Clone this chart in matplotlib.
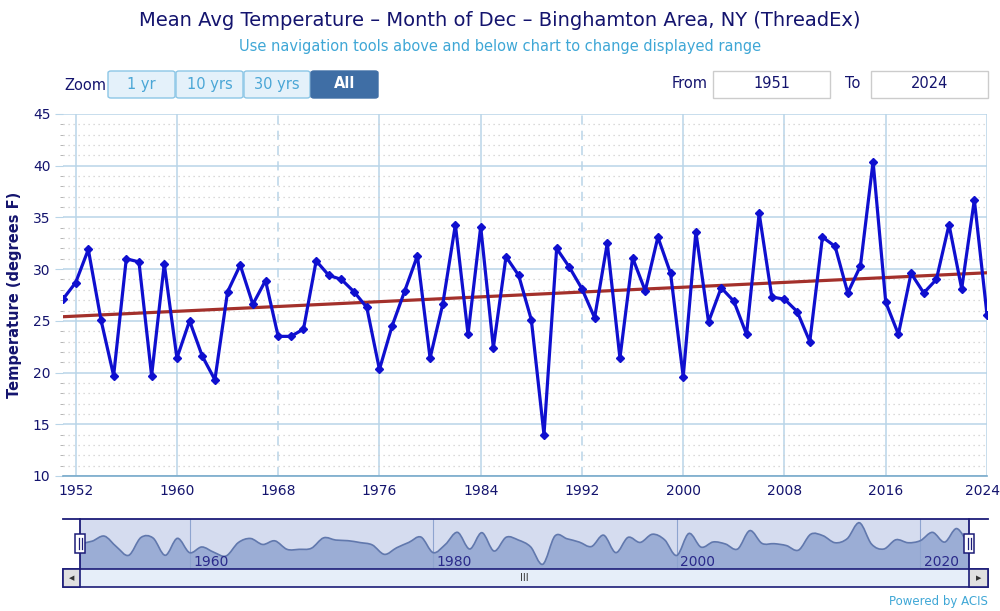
import numpy as np
import matplotlib
matplotlib.use("Agg")
import matplotlib.pyplot as plt
import matplotlib.transforms as mtransforms
from matplotlib.patches import FancyBboxPatch, Rectangle, PathPatch
from matplotlib.path import Path
from matplotlib.lines import Line2D

# === Data
years = list(range(1951, 2025))
temps = [27.1, 28.7, 31.9, 25.1, 19.7, 31.0, 30.7, 19.7, 30.5, 21.4,
         25.0, 21.6, 19.3, 27.8, 30.4, 26.6, 28.9, 23.5, 23.5, 24.2,
         30.8, 29.4, 29.0, 27.8, 26.3, 20.3, 24.5, 27.9, 31.3, 21.4,
         26.6, 34.3, 23.7, 34.1, 22.4, 31.2, 29.4, 25.1, 14.0, 32.0,
         30.2, 28.1, 25.3, 32.5, 21.4, 31.1, 27.9, 33.1, 29.6, 19.6,
         33.6, 24.9, 28.2, 26.9, 23.7, 35.4, 27.3, 27.1, 25.9, 23.0,
         33.1, 32.2, 27.7, 30.3, 40.4, 26.8, 23.7, 29.6, 27.7, 29.0,
         34.3, 28.1, 36.7, 25.6]
trend_years = [1951, 2024]
trend_vals = [25.4, 29.65]
x_ticks = [1952, 1960, 1968, 1976, 1984, 1992, 2000, 2008, 2016, 2024]
nav_ticks = [1960, 1980, 2000, 2020]

title = "Mean Avg Temperature \u2013 Month of Dec \u2013 Binghamton Area, NY (ThreadEx)"
subtitle = "Use navigation tools above and below chart to change displayed range"

NAVY = "#14146e"
W, H = 1000, 611


def fx(px):
    return px / W


def fy(py):
    return 1 - py / H


fig = plt.figure(figsize=(W / 100, H / 100), dpi=100)

# === Main chart
ax = fig.add_axes([fx(63), fy(476), (987 - 63) / W, (476 - 114) / H])
ax.set_xlim(1951, 2024)
ax.set_ylim(10, 45)

ax.set_yticks(np.arange(10, 46, 5))
ax.set_yticks(np.arange(10, 46, 1), minor=True)
ax.set_xticks(x_ticks)
ax.grid(which="minor", axis="y", color="#cfcfcf", linestyle=(0, (1, 3)), linewidth=0.9)
ax.grid(which="major", axis="y", color="#b9d5e8", linewidth=1.1)
for yr in x_ticks:
    ls = (0, (6, 4)) if yr in (1968, 1992) else "-"
    ax.axvline(yr, color="#b9d5e8", linewidth=1.1, linestyle=ls, zorder=0.5)

for s in ["top", "right", "left"]:
    ax.spines[s].set_visible(False)
ax.spines["bottom"].set_color("#78aacb")
ax.spines["bottom"].set_linewidth(1.2)
ax.tick_params(axis="y", which="major", length=6, color="#b9d5e8", labelsize=10, labelcolor=NAVY, pad=3)
ax.tick_params(axis="y", which="minor", length=2, color="#aaaaaa")
ax.tick_params(axis="x", length=0, labelsize=10, labelcolor=NAVY, pad=6)
ax.set_ylabel("Temperature (degrees F)", fontsize=10.5, fontweight="bold", color=NAVY, labelpad=8)

# keep the last year label inside the figure
last = ax.get_xticklabels()[-1]
last.set_transform(last.get_transform() + mtransforms.ScaledTranslation(-4 / 100, 0, fig.dpi_scale_trans))

ax.plot(trend_years, trend_vals, color="#a3302b", linewidth=2.3, zorder=3)
ax.plot(years, temps, color="#0f0fcf", linewidth=2.3, marker="D", markersize=4.3, zorder=4)

# === Titles
fig.text(0.5, fy(20), title, ha="center", va="center", fontsize=14, color=NAVY)
fig.text(0.5, fy(47), subtitle, ha="center", va="center", fontsize=10.5, color="#3fa7d6")

# === Range selector buttons
fig.text(fx(85), fy(85), "Zoom", ha="center", va="center", fontsize=10.5, color=NAVY)
buttons = [("1 yr", 108, 175), ("10 yrs", 176, 243), ("30 yrs", 244, 310), ("All", 311, 378)]
for lab, x0, x1 in buttons:
    sel = lab == "All"
    fig.patches.append(FancyBboxPatch((fx(x0), fy(98)), (x1 - x0) / W, 27 / H,
                                      boxstyle="round,pad=0,rounding_size=0.003",
                                      transform=fig.transFigure,
                                      facecolor="#3f6ea5" if sel else "#e4f1fa",
                                      edgecolor="#3f6ea5" if sel else "#8cc6e6",
                                      linewidth=1))
    fig.text(fx((x0 + x1) / 2), fy(84), lab, ha="center", va="center", fontsize=10.5,
             color="white" if sel else "#4aa6d6", fontweight="bold" if sel else "normal")

fig.text(fx(690), fy(84), "From", ha="center", va="center", fontsize=10.5, color=NAVY)
fig.text(fx(853), fy(84), "To", ha="center", va="center", fontsize=10.5, color=NAVY)
for val, x0, x1 in [("1951", 713, 830), ("2024", 871, 988)]:
    fig.patches.append(Rectangle((fx(x0), fy(98)), (x1 - x0) / W, 27 / H, transform=fig.transFigure,
                                 facecolor="white", edgecolor="#cccccc", linewidth=1))
    fig.text(fx((x0 + x1) / 2), fy(84), val, ha="center", va="center", fontsize=10.5, color=NAVY)

# === Navigator
nav = fig.add_axes([fx(80), fy(569.3), (969 - 80) / W, (569.3 - 519.3) / H])
nav.set_xlim(1951, 2024)
nav.set_ylim(10.8, 42.6)
nav.set_facecolor("#d5dcef")
for s in nav.spines.values():
    s.set_visible(False)
nav.set_xticks([])
nav.set_yticks([])

# smooth curve through the points (bezier path drawn by matplotlib)
pts = np.column_stack([years, temps]).astype(float)
verts = [tuple(pts[0])]
codes = [Path.MOVETO]
for i in range(len(pts) - 1):
    p0 = pts[max(i - 1, 0)]
    p1 = pts[i]
    p2 = pts[i + 1]
    p3 = pts[min(i + 2, len(pts) - 1)]
    c1 = p1 + (p2 - p0) / 6.0
    c2 = p2 - (p3 - p1) / 6.0
    verts += [tuple(c1), tuple(c2), tuple(p2)]
    codes += [Path.CURVE4] * 3
line_path = Path(verts, codes)
fill_path = Path(verts + [(2024, 10.8), (1951, 10.8), verts[0]],
                 codes + [Path.LINETO, Path.LINETO, Path.CLOSEPOLY])
nav.add_patch(PathPatch(fill_path, facecolor="#9badd5", edgecolor="none", zorder=2))
nav.add_patch(PathPatch(line_path, facecolor="none", edgecolor="#6178ad", linewidth=1.2, zorder=3))
for yr in nav_ticks:
    nav.axvline(yr, color="#8ea4cf", linewidth=0.8, zorder=2.5)
    nav.text(yr + 0.3, 11.3, str(yr), fontsize=10, color="#2a2a8a", ha="left", va="bottom", zorder=4)

# navigator outline, handles, scrollbar
fig.add_artist(Line2D([fx(63), fx(988)], [fy(519.3), fy(519.3)], color="#1c1c78", linewidth=1.3))
for xp in (80, 969):
    fig.add_artist(Line2D([fx(xp), fx(xp)], [fy(519.3), fy(569.3)], color="#1c1c78", linewidth=1.3))
    fig.patches.append(Rectangle((fx(xp - 5), fy(553)), 10 / W, 19 / H, transform=fig.transFigure,
                                 facecolor="white", edgecolor="#1c1c78", linewidth=1.1, zorder=5))
    for dx in (-1.5, 1.5):
        fig.add_artist(Line2D([fx(xp + dx), fx(xp + dx)], [fy(538), fy(549)], color="#1c1c78",
                              linewidth=0.9, zorder=6))

fig.patches.append(Rectangle((fx(63), fy(586.7)), (988 - 63) / W, 17.4 / H, transform=fig.transFigure,
                             facecolor="#e6eef9", edgecolor="#1c1c78", linewidth=1.2))
for x0, x1, arrow in [(63, 80, "\u25c0"), (969, 988, "\u25b6")]:
    fig.patches.append(Rectangle((fx(x0), fy(586.7)), (x1 - x0) / W, 17.4 / H, transform=fig.transFigure,
                                 facecolor="#e0e0e0", edgecolor="#1c1c78", linewidth=1.2))
    fig.text(fx((x0 + x1) / 2), fy(578), arrow, ha="center", va="center", fontsize=5, color="#333333")
fig.text(fx(524), fy(578), "III", ha="center", va="center", fontsize=7, color="#333333")

fig.text(fx(988), fy(601), "Powered by ACIS", ha="right", va="center", fontsize=8.5, color="#3fa7d6")

fig.savefig("out.png", dpi=100)
